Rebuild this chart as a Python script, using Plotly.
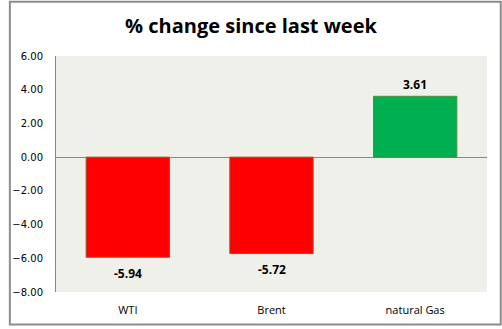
import plotly.graph_objects as go

categories = ["WTI", "Brent", "natural Gas"]
values = [-5.94, -5.72, 3.61]
bar_colors = ["#FF0000", "#FF0000", "#00B050"]
border_colors = ["#A0522D", "#A0522D", "#4E8F3A"]
labels = ["-5.94", "-5.72", "3.61"]
y_ticks = [-8, -6, -4, -2, 0, 2, 4, 6]

W, H = 502, 329
L, R, T, B = 48, 15, 56, 34
pw, ph = W - L - R, H - T - B

fig = go.Figure(go.Bar(
    x=categories, y=values,
    marker=dict(color=bar_colors, line=dict(color=border_colors, width=1)),
    cliponaxis=False,
))

for c, v, t in zip(categories, values, labels):
    fig.add_annotation(x=c, y=v, text="<b>%s</b>" % t, showarrow=False,
                       yanchor="middle", yshift=(12 if v >= 0 else -16),
                       font=dict(family="Open Sans", size=12, color="#000000"))

fig.update_layout(
    width=W, height=H,
    margin=dict(l=L, r=R, t=T, b=B),
    paper_bgcolor="#FFFFFF",
    plot_bgcolor="#EFF0EA",
    bargap=0.42,
    showlegend=False,
    title=dict(text="<b>% change since last week</b>", x=0.5, xanchor="center",
               y=1 - 26 / H, yanchor="middle", yref="container",
               font=dict(family="Open Sans", size=20, color="#000000")),
)
fig.update_yaxes(range=[-8, 6], tickvals=y_ticks, tickformat=".2f",
                 showgrid=False, zeroline=True, zerolinecolor="#888888", zerolinewidth=1,
                 showline=True, linecolor="#888888", linewidth=1,
                 ticks="", ticklabelstandoff=10,
                 tickfont=dict(family="DejaVu Sans", size=10, color="#000000"))
fig.update_xaxes(showgrid=False, showline=False, ticks="", ticklabelstandoff=10,
                 tickfont=dict(family="Open Sans", size=11, color="#000000"))

# outer chart border
fig.add_shape(type="rect", xref="paper", yref="paper",
              x0=-(L - 1) / pw, x1=1 + (R - 1) / pw,
              y0=-(B - 1) / ph, y1=1 + (T - 1) / ph,
              line=dict(color="#8C8C8C", width=2), fillcolor="rgba(0,0,0,0)", layer="above")

fig.write_html("out.html")
